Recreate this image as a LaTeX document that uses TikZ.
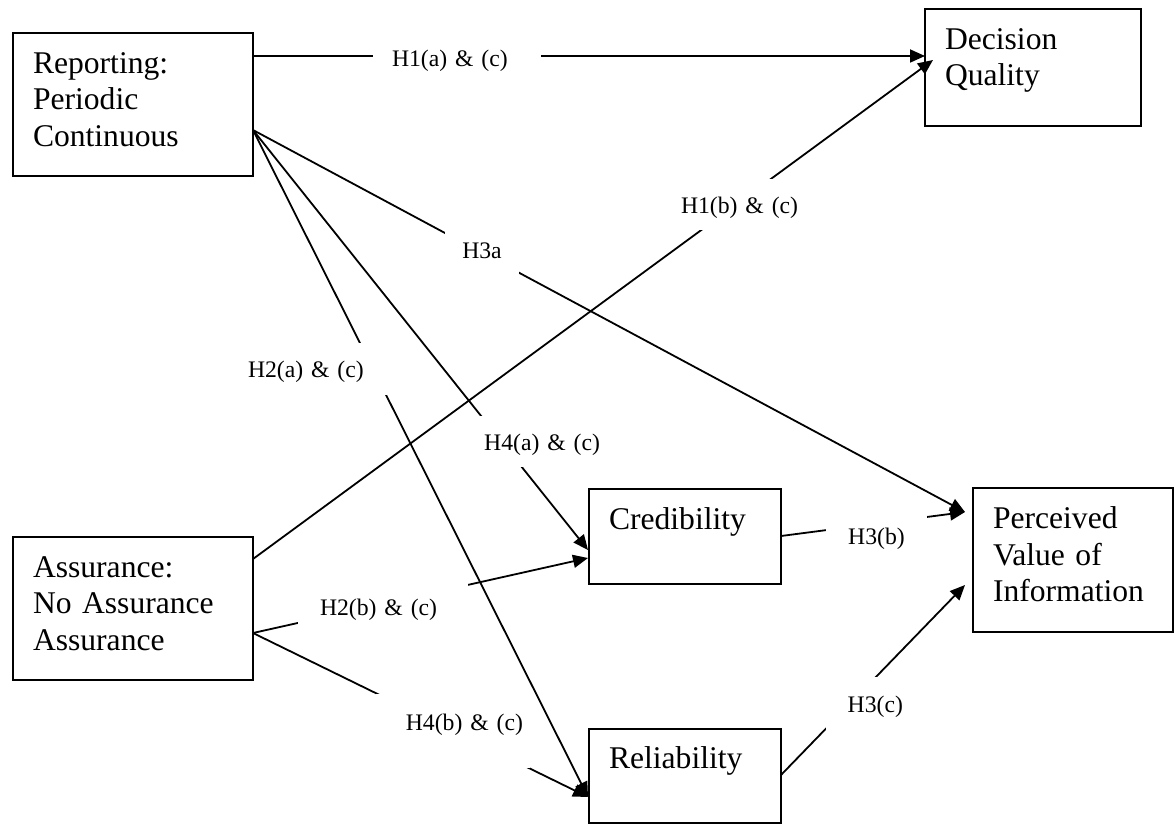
\documentclass[tikz,border=0pt]{standalone}
\usepackage{fontspec}
\setmainfont{Liberation Serif}
\usetikzlibrary{arrows.meta,calc}
\tikzset{
  box/.style={draw, line width=2pt, fill=white, anchor=north west, inner xsep=20pt, inner ysep=0pt, outer sep=0pt, align=left, font=\fontsize{31.6pt}{36.7pt}\selectfont},
  conn/.style={line width=1.8pt, -{Triangle[length=15pt,width=13pt]}},
  lbl/.style={fill=white, inner ysep=0pt, outer sep=0pt, font=\fontsize{23.7pt}{28pt}\selectfont},
}
\begin{document}
\begin{tikzpicture}[x=1pt,y=-1pt]
\useasboundingbox (0,0) rectangle (1174,824);
% boxes
\node[box, text width=200pt, text height=40.3pt, text depth=102.7pt] (rep) at (13,33) {Reporting:\\Periodic\\Continuous};
\node[box, text width=176pt, text height=40.3pt, text depth=76.7pt] (dq) at (925,9) {Decision\\Quality};
\node[box, text width=152pt, text height=40pt, text depth=55pt] (cred) at (589,489) {Credibility};
\node[box, text width=160pt, text height=40.3pt, text depth=103.7pt] (pv) at (973,488) {Perceived\\Value of\\Information};
\node[box, text width=200pt, text height=40pt, text depth=103pt] (as) at (13,537) {Assurance:\\No Assurance\\Assurance};
\node[box, text width=152pt, text height=39.5pt, text depth=54.5pt] (rel) at (589,729) {Reliability};
% connectors
\draw[conn] ($(rep.north east)+(0,23)$) -- ($(dq.north west)+(0,47)$);
\draw[conn] ($(as.north east)+(0,22)$) -- ($(dq.north west)+(8,51)$);
\draw[conn] ($(rep.north east)+(0,97)$) -- ($(pv.north west)+(-8,24)$);
\draw[conn] ($(rep.north east)+(0,97)$) -- ($(cred.north west)+(-1,61)$);
\draw[conn] ($(rep.north east)+(0,97)$) -- ($(rel.north west)+(-1,68)$);
\draw[conn] ($(as.north east)+(0,96)$) -- ($(cred.north west)+(-1,69)$);
\draw[conn] ($(as.north east)+(0,96)$) -- ($(rel.north west)+(-1,68)$);
\draw[conn] ($(cred.north east)+(0,47)$) -- ($(pv.north west)+(-8,24)$);
\draw[conn] ($(rel.north east)+(0,46)$) -- ($(pv.north west)+(-8,97)$);
% labels
\node[lbl, inner xsep=19pt, text width=130pt, align=left, text height=34pt, text depth=17pt] (l1a) at (457,58.5) {\mbox{H1(a) \& (c)}};
\node[lbl, inner xsep=2pt, text width=114pt, align=left, text height=34pt, text depth=17pt] (l1b) at (738,204.5) {\mbox{H1(b) \& (c)}};
\node[lbl, inner xsep=17pt, text width=40pt, align=center, text height=34pt, text depth=17pt] (l3a) at (482,249.5) {\mbox{H3a}};
\node[lbl, inner xsep=2pt, text width=137pt, align=left, text height=34pt, text depth=18pt] (l2a) at (316.5,369) {\mbox{H2(a) \& (c)}};
\node[lbl, inner xsep=3pt, text width=121pt, align=right, text height=34pt, text depth=17pt] (l4a) at (539.5,441.5) {\mbox{H4(a) \& (c)}};
\node[lbl, inner xsep=22pt, text width=126pt, align=left, text height=34pt, text depth=17pt] (l2b) at (383,606.5) {\mbox{H2(b) \& (c)}};
\node[lbl, inner xsep=7pt, text width=140pt, align=right, text height=36pt, text depth=38pt] (l4b) at (453,731) {\mbox{H4(b) \& (c)}};
\node[lbl, inner xsep=22pt, text width=57pt, align=center, text height=34pt, text depth=17pt] (l3b) at (876.5,535.5) {\mbox{H3(b)}};
\node[lbl, inner xsep=3pt, text width=74pt, align=right, text height=35pt, text depth=19pt] (l3c) at (866,704) {\mbox{H3(c)}};
\end{tikzpicture}
\end{document}
